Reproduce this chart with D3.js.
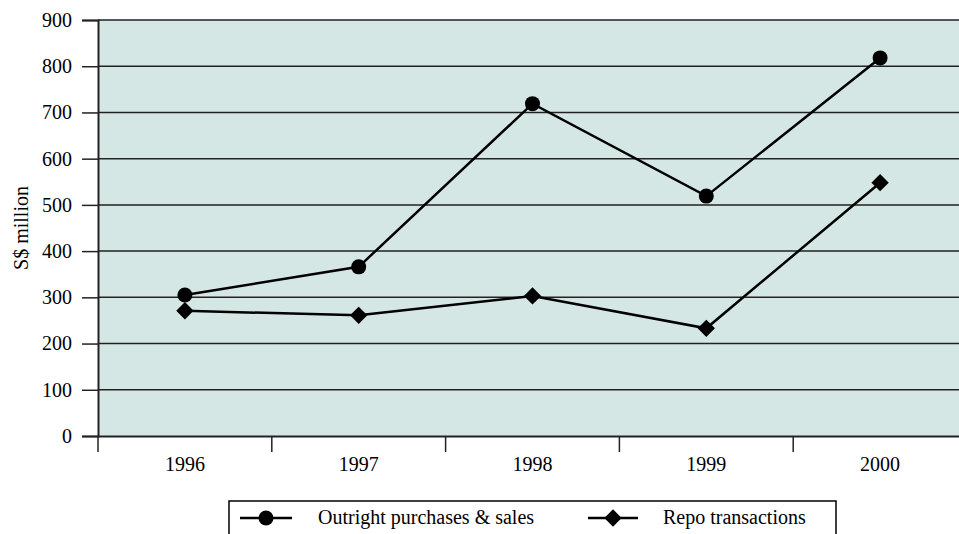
<!DOCTYPE html>
<html><head><meta charset="utf-8">
<script src="https://cdn.jsdelivr.net/npm/d3@7"></script>
</head><body style="margin:0"><svg id="c" width="959" height="534"></svg>
<script>
const years = ["1996","1997","1998","1999","2000"];
const outright = [305, 366, 719, 519, 818];
const repo = [271, 261, 303, 233, 548];
const yTicks = [0,100,200,300,400,500,600,700,800,900];
const seriesNames = ["Outright purchases & sales","Repo transactions"];

const svg = d3.select("#c");
const L=98, R=967, T=20, B=436;
const x = d3.scaleBand().domain(years).range([L,R]);
const y = d3.scaleLinear().domain([0,900]).range([B,T]);

function styleText(sel){ sel.style("font-family","'Liberation Serif'").style("font-size","20px").attr("fill","#000"); }

svg.append("rect").attr("x",L).attr("y",T).attr("width",R-L).attr("height",B-T).attr("fill","#d4e7e4");

svg.append("g").selectAll("line").data(yTicks.filter(d=>d>0)).join("line")
 .attr("x1",L).attr("x2",R).attr("y1",d=>y(d)).attr("y2",d=>y(d))
 .attr("stroke","#222").attr("stroke-width",1.5);

const ya = svg.append("g").attr("transform",`translate(${L},0)`)
 .call(d3.axisLeft(y).tickValues(yTicks).tickSize(16).tickPadding(10).tickFormat(d3.format("d")));
ya.attr("font-family",null).attr("font-size",null);
ya.select(".domain").attr("stroke","#222").attr("stroke-width",2);
ya.selectAll(".tick line").attr("stroke","#222").attr("stroke-width",1.5);
ya.selectAll("text").call(styleText);

const xa = svg.append("g").attr("transform",`translate(0,${B})`)
 .call(d3.axisBottom(x).tickSize(0).tickPadding(21));
xa.attr("font-family",null).attr("font-size",null);
xa.select(".domain").attr("stroke","#222").attr("stroke-width",2);
xa.selectAll("text").call(styleText);
xa.selectAll("line.bt").data(years).join("line").attr("class","bt")
 .attr("x1",d=>x(d)).attr("x2",d=>x(d)).attr("y1",0).attr("y2",16)
 .attr("stroke","#222").attr("stroke-width",1.5);

svg.append("text").attr("transform",`translate(28,${(T+B)/2}) rotate(-90)`)
 .attr("text-anchor","middle").call(styleText).text("S$ million");

const cx = d => x(d)+x.bandwidth()/2;
const line = d3.line().x((d,i)=>cx(years[i])).y(d=>y(d));
svg.append("path").datum(outright).attr("d",line).attr("fill","none").attr("stroke","#000").attr("stroke-width",2.5);
svg.append("path").datum(repo).attr("d",line).attr("fill","none").attr("stroke","#000").attr("stroke-width",2.5);
svg.append("g").selectAll("circle").data(outright).join("circle")
 .attr("cx",(d,i)=>cx(years[i])).attr("cy",d=>y(d)).attr("r",7.5).attr("fill","#000");
const sq = d3.symbol().type(d3.symbolSquare).size(150);
svg.append("g").selectAll("path").data(repo).join("path")
 .attr("transform",(d,i)=>`translate(${cx(years[i])},${y(d)}) rotate(45)`)
 .attr("d",sq).attr("fill","#000");

const lg = svg.append("g");
lg.append("rect").attr("x",229).attr("y",501).attr("width",607).attr("height",40).attr("fill","#fff").attr("stroke","#000").attr("stroke-width",1.5);
const ly=518;
lg.append("line").attr("x1",240).attr("x2",292).attr("y1",ly).attr("y2",ly).attr("stroke","#000").attr("stroke-width",2.5);
lg.append("circle").attr("cx",266).attr("cy",ly).attr("r",7.5).attr("fill","#000");
lg.append("text").attr("x",318).attr("y",ly+6).call(styleText).text(seriesNames[0]);
lg.append("line").attr("x1",588).attr("x2",638).attr("y1",ly).attr("y2",ly).attr("stroke","#000").attr("stroke-width",2.5);
lg.append("path").attr("transform",`translate(613,${ly}) rotate(45)`).attr("d",sq).attr("fill","#000");
lg.append("text").attr("x",663).attr("y",ly+6).call(styleText).text(seriesNames[1]);
</script></body></html>
